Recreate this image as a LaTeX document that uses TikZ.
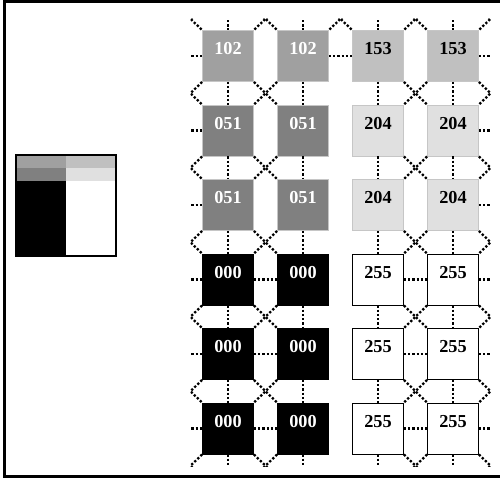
\documentclass[tikz,border=0pt]{standalone}
\usepackage{fontspec}
\setmainfont{Liberation Serif}
\definecolor{lv051}{RGB}{128,128,128}
\definecolor{lv102}{RGB}{160,160,160}
\definecolor{lv153}{RGB}{192,192,192}
\definecolor{lv204}{RGB}{224,224,224}

\begin{document}
\begin{tikzpicture}[x=0.02cm,y=-0.02cm,
  pix/.style={minimum size=1.02cm,inner sep=0pt,line width=0.5pt,
    font=\fontsize{10.4}{12}\selectfont\bfseries,text height=0.23cm,text depth=0.29cm},
  lite/.style={pix,draw=gray!45},
  dark/.style={pix,draw=gray!45,text=white},
  blk/.style={pix,draw=black,fill=black,text=white},
  wht/.style={pix,draw=black,fill=white},
  ghost/.style={minimum size=1.02cm,inner sep=0pt},
  lnk/.style={line width=1.3pt,dash pattern=on 1.3pt off 1.1pt}]
\useasboundingbox (0,0) rectangle (500,478);
% frame
\draw[line width=1.7pt] (500,1.5) -- (4.5,1.5) -- (4.5,476.5) -- (500,476.5);
% small image
\fill[lv102] (16,155) rectangle (66,168);
\fill[lv153] (66,155) rectangle (116,168);
\fill[lv051] (16,168) rectangle (66,181);
\fill[lv204] (66,168) rectangle (116,181);
\fill[black] (16,181) rectangle (66,256);
\draw[line width=0.6pt] (16,155) rectangle (116,256);
% pixels
\node[dark,fill=lv102] (n11) at (228,56) {102};
\node[dark,fill=lv102] (n12) at (303,56) {102};
\node[lite,fill=lv153] (n13) at (378,56) {153};
\node[lite,fill=lv153] (n14) at (453,56) {153};
\node[dark,fill=lv051] (n21) at (228,130.5) {051};
\node[dark,fill=lv051] (n22) at (303,130.5) {051};
\node[lite,fill=lv204] (n23) at (378,130.5) {204};
\node[lite,fill=lv204] (n24) at (453,130.5) {204};
\node[dark,fill=lv051] (n31) at (228,205) {051};
\node[dark,fill=lv051] (n32) at (303,205) {051};
\node[lite,fill=lv204] (n33) at (378,205) {204};
\node[lite,fill=lv204] (n34) at (453,205) {204};
\node[blk] (n41) at (228,279.5) {000};
\node[blk] (n42) at (303,279.5) {000};
\node[wht] (n43) at (378,279.5) {255};
\node[wht] (n44) at (453,279.5) {255};
\node[blk] (n51) at (228,354) {000};
\node[blk] (n52) at (303,354) {000};
\node[wht] (n53) at (378,354) {255};
\node[wht] (n54) at (453,354) {255};
\node[blk] (n61) at (228,428.5) {000};
\node[blk] (n62) at (303,428.5) {000};
\node[wht] (n63) at (378,428.5) {255};
\node[wht] (n64) at (453,428.5) {255};
% neighbours outside the cut
\foreach \c in {0,...,5}{
  \node[ghost] (n0\c) at (153+75*\c,-18.5) {};
  \node[ghost] (n7\c) at (153+75*\c,503) {};}
\foreach \r in {1,...,6}{
  \node[ghost] (n\r0) at (153,-18.5+74.5*\r) {};
  \node[ghost] (n\r5) at (528,-18.5+74.5*\r) {};}
% links
\begin{scope}
\clip (190.5,18.5) rectangle (490.5,466);
\foreach \c in {1,...,4}
  \foreach \r [count=\s] in {0,...,6}
    \draw[lnk] (n\r\c.south) -- (n\s\c.north);
\foreach \r/\c/\d in {1/0/1,1/2/3,1/4/5,2/0/1,2/4/5,3/0/1,3/4/5,
    4/0/1,4/1/2,4/3/4,4/4/5,5/0/1,5/1/2,5/3/4,5/4/5,6/0/1,6/1/2,6/3/4,6/4/5}
  \draw[lnk] (n\r\c.east) -- (n\r\d.west);
\foreach \c [count=\d] in {0,...,4}{
  \draw[lnk] (n0\c.south east) -- (n1\d.north west);
  \draw[lnk] (n0\d.south west) -- (n1\c.north east);}
\foreach \r [count=\s from 2] in {1,...,6}
  \foreach \c/\d in {0/1,1/2,3/4,4/5}{
    \draw[lnk] (n\r\c.south east) -- (n\s\d.north west);
    \draw[lnk] (n\r\d.south west) -- (n\s\c.north east);}
\end{scope}
\end{tikzpicture}
\end{document}
